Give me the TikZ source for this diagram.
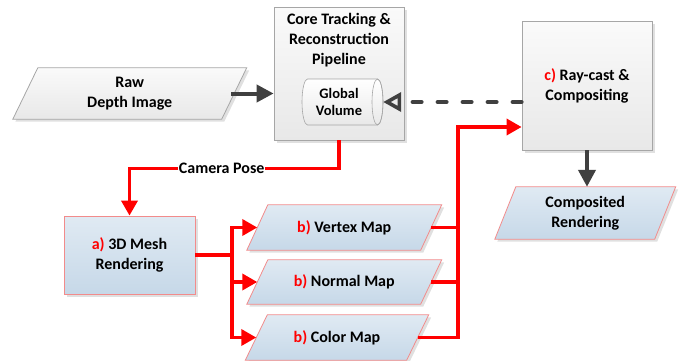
\documentclass[tikz,border=0pt]{standalone}
\usepackage{fontspec}
\setmainfont{Carlito}
\usetikzlibrary{arrows.meta,shadows}
\pgfdeclarelayer{bg}
\pgfsetlayers{bg,main}
\definecolor{dk}{HTML}{404040}
\definecolor{bd}{HTML}{A6A6A6}
\definecolor{rb}{HTML}{F28B8B}
\definecolor{btop}{HTML}{E0EAF3}
\definecolor{bbot}{HTML}{C6D8E8}
\definecolor{gtop}{HTML}{FAFAFA}
\definecolor{gbot}{HTML}{E8E8E8}
\tikzset{
  txt/.style={font=\fontsize{16}{20}\selectfont\bfseries, align=center, text=black},
  smalltxt/.style={font=\fontsize{14.5}{17.5}\selectfont\bfseries, align=center, text=black},
  shd/.style={drop shadow={shadow xshift=2.5pt, shadow yshift=-2.5pt, fill=black!35, opacity=0.35}},
  gbox/.style={txt, draw=bd, line width=0.8pt, top color=gtop, bottom color=gbot, shd},
  bbox/.style={txt, draw=rb, line width=0.8pt, top color=btop, bottom color=bbot, shd},
  gpara/.style={draw=bd, line width=0.8pt, top color=gtop, bottom color=gbot, shd},
  bpara/.style={draw=rb, line width=0.8pt, top color=btop, bottom color=bbot, shd},
  holder/.style={txt, inner sep=0pt},
  darr/.style={draw=dk, line width=4pt, -{Triangle[length=17pt,width=17pt]}},
  dasharr/.style={draw=dk, line width=4pt, line cap=round, dash pattern=on 9pt off 16pt,
     -{Triangle[open,length=18pt,width=19pt,line width=3.6pt]}},
  rline/.style={draw=red, line width=3.5pt},
  rarr/.style={rline, -{Triangle[length=15pt,width=16pt]}},
  lbl/.style={txt, fill=white, inner sep=1pt}
}
\newcommand\mypara[3]{%
  \begin{pgfonlayer}{bg}
  \path[#3] ([xshift=#2]#1.north west) -- ([xshift=#2]#1.north east)
     -- ([xshift=-#2]#1.south east) -- ([xshift=-#2]#1.south west) -- cycle;
  \end{pgfonlayer}}
\begin{document}
\begin{tikzpicture}[x=1pt,y=-1pt]
\useasboundingbox (0,0) rectangle (683,360);

% boxes
\node[gbox, minimum width=130pt, minimum height=133pt] (core) at (339,73.5) {};
\node[txt] (coretext) at (339,40) {Core Tracking \&\\Reconstruction\\Pipeline};

% cylinder
\node[inner sep=0pt, minimum width=81pt, minimum height=46pt] (vol) at (342.5,102) {};
\path[draw=bd, line width=0.6pt, top color=white, bottom color=gbot]
  (377.5,79) -- (307.5,79) arc[start angle=270, end angle=90, x radius=5.5, y radius=23]
  -- (377.5,125) arc[start angle=90, end angle=-90, x radius=5.5, y radius=23] -- cycle;
\draw[bd, line width=0.6pt] (377.5,102) ellipse [x radius=5.5, y radius=23];
\node[smalltxt] (voltext) at (339,102) {Global\\Volume};

\node[gbox, minimum width=130pt, minimum height=129pt] (ray) at (587,85.5)
  {\textcolor{red}{c)} Ray-cast \&\\Compositing};
\node[bbox, minimum width=131pt, minimum height=78pt] (mesh) at (129.5,255)
  {\textcolor{red}{a)} 3D Mesh\\Rendering};

% parallelograms
\node[holder, minimum width=208.5pt, minimum height=51pt] (raw) at (129.75,93.5) {Raw\\Depth Image};
\mypara{raw}{12.5pt}{gpara}
\node[holder, minimum width=159.5pt, minimum height=52pt] (comp) at (585.25,213) {Composited\\Rendering};
\mypara{comp}{10.5pt}{bpara}
\node[holder, minimum width=173.5pt, minimum height=45pt] (vert) at (344.25,227.5) {\textcolor{red}{b)} Vertex Map};
\mypara{vert}{10.5pt}{bpara}
\node[holder, minimum width=173.5pt, minimum height=44pt] (norm) at (344.25,282) {\textcolor{red}{b)} Normal Map};
\mypara{norm}{10.5pt}{bpara}
\node[holder, minimum width=161pt, minimum height=45pt] (colr) at (337,337.5) {\textcolor{red}{b)} Color Map};
\mypara{colr}{11pt}{bpara}

% connectors
\draw[darr] ([xshift=-3pt]raw.east) -- (core.west |- raw.east);
\draw[dasharr] (ray.west |- vol.east) -- (vol.east);
\draw[darr] (ray.south) -- (ray.south |- comp.north);

\draw[rarr] (core.south) -- ++(0,28) coordinate (cpbend) -| (mesh.north)
  node[lbl, pos=0.28] (cplabel) {Camera Pose};

\coordinate (fork) at (232,255);
\draw[rline] (mesh.east) -- (fork);
\draw[rarr] (fork) |- (vert.west);
\draw[rarr] (fork) |- (norm.west);
\draw[rarr] (fork) |- (colr.west);

\coordinate (join) at (458,127);
\draw[rline] (vert.east) -- (vert.east -| join);
\draw[rline] (norm.east) -- (norm.east -| join);
\draw[rarr] (colr.east) -| (join) -- (join -| ray.west);
\end{tikzpicture}
\end{document}
